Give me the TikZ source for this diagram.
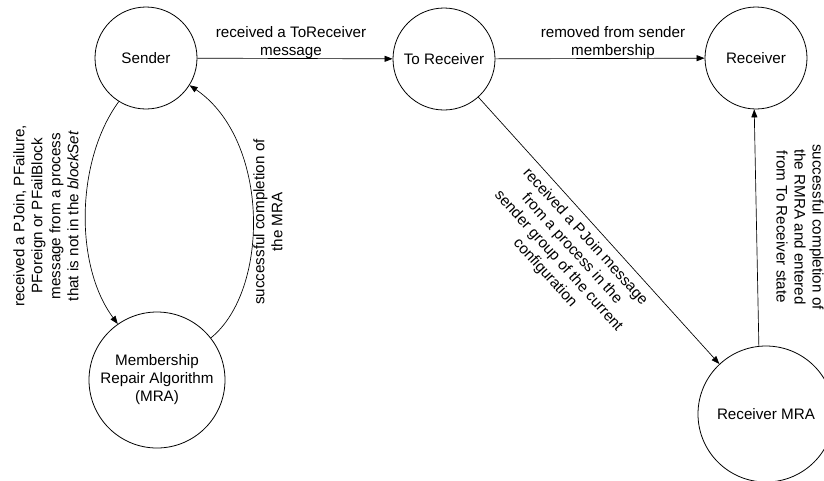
\documentclass[tikz,border=0pt]{standalone}
\usepackage{fontspec}
\setmainfont{Liberation Sans}
\usetikzlibrary{arrows.meta}
\begin{document}
\begin{tikzpicture}[x=0.75pt,y=-0.75pt,
  state/.style={draw,circle,line width=0.6pt,inner sep=0pt,font=\fontsize{11.4}{13.5}\selectfont,align=center},
  small/.style={state,minimum size=76.5pt},
  big/.style={state,minimum size=102pt},
  conn/.style={draw,line width=0.5pt,-{Triangle[length=6pt,width=4.5pt]}},
  lbl/.style={font=\fontsize{11.4}{13.5}\selectfont,align=center,inner sep=0pt}]
\useasboundingbox (0,0) rectangle (824,480);
\node[small] (s) at (146,58) {Sender};
\node[small] (t) at (444,59) {To Receiver};
\node[small] (r) at (756,58) {Receiver};
\node[big] (m) at (157,380) {Membership\\Repair Algorithm\\(MRA)};
\node[big] (rm) at (766,414) {Receiver MRA};
\draw[conn] (s) -- (t);
\draw[conn] (t) -- (r);
\draw[conn] (s.-122) .. controls (76,160) and (74,265) .. (m.125);
\draw[conn] (m.38) .. controls (270,290) and (270,140) .. (s.-32);
\draw[conn] (t.-48) -- (rm.133);
\draw[conn] (rm.96) -- (r.-92);
\node[lbl] (l1) at (291,43) {received a ToReceiver\\message};
\node[lbl] (l2) at (613,43) {removed from sender\\membership};
\node[lbl,rotate=90] (l3) at (46,216) {received a PJoin, PFailure,\\PForeign or PFailBlock\\message from a process\\that is not in the \textit{blockSet}};
\node[lbl,rotate=90] (l4) at (268,222) {successful completion of\\the MRA};
\node[lbl,rotate=-48] (l5) at (565,255) {received a PJoin message\\from a process in the\\sender group of the current\\configuration};
\node[lbl,rotate=-90] (l6) at (800,227) {successful completion of\\the RMRA and entered\\from To Receiver state};
\end{tikzpicture}
\end{document}
